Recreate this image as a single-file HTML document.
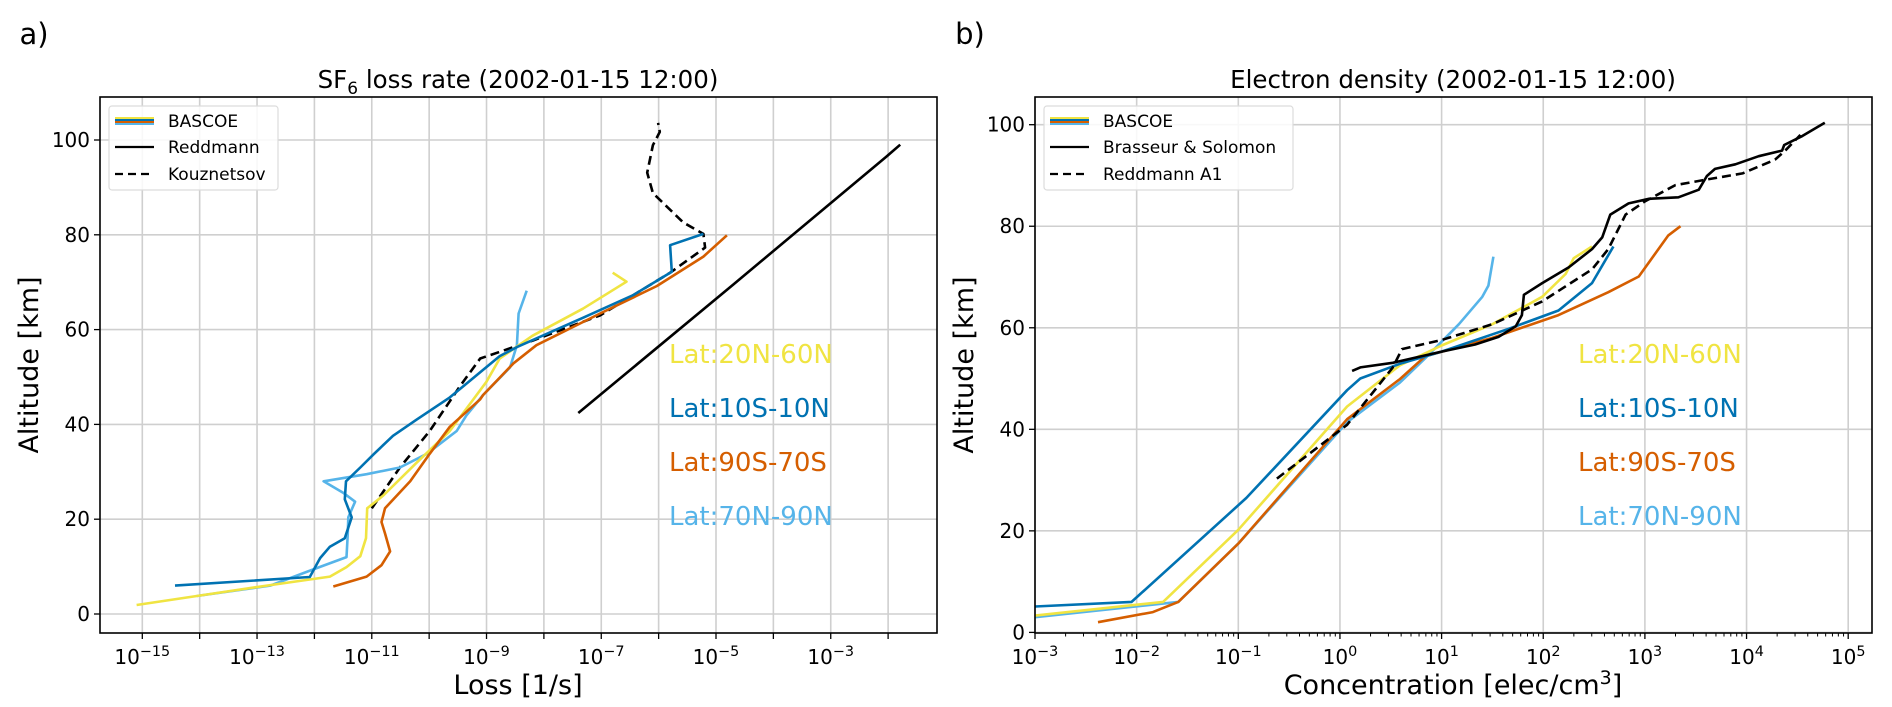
<!DOCTYPE html>
<html><head><meta charset="utf-8"><style>
html,body{margin:0;padding:0;background:#fff;}
svg{display:block;font-family:"DejaVu Sans","Liberation Sans",sans-serif;}
</style></head><body>
<svg id="fig" width="1892" height="707" viewBox="0 0 1892 707" xmlns="http://www.w3.org/2000/svg"></svg>
<script>
// ---------- Panel a data (log10 loss [1/s], altitude km) ----------
const aYellowE = [-15.1,-14.05,-12.83,-11.73,-11.44,-11.2,-11.1,-11.08,-10.8,-10.22,-9.64,-9.0,-8.77,-8.2,-7.32,-6.56,-6.8];
const aYellowZ = [1.9,3.8,6,7.9,9.9,12.2,16,22.3,25,31.9,38.6,49,53.9,58.7,64.4,70.1,72];
const aBlueE = [-14.43,-12.08,-11.9,-11.73,-11.47,-11.35,-11.47,-11.45,-11.2,-10.96,-10.63,-10.22,-9.64,-9.11,-8.77,-8.47,-7.32,-6.44,-5.77,-5.8,-5.22];
const aBlueZ = [6,7.8,11.8,14.2,16,20.4,24.2,28,30.9,33.8,37.6,41,45.7,51,54.4,56.3,62.5,67.3,72.2,77.8,80.2];
const aOrangeE = [-11.67,-11.09,-10.83,-10.68,-10.77,-10.83,-10.77,-10.33,-9.99,-9.64,-9.11,-9.06,-8.53,-8.13,-7.02,-6.03,-5.22,-4.81];
const aOrangeZ = [5.8,7.9,10.3,13.2,17,19.4,22.3,28,33.8,39.5,45.3,46.2,52.9,56.7,63.4,69.2,75.4,79.9];
const aLightE = [-14.05,-12.77,-12.02,-11.44,-11.42,-11.41,-11.29,-11.5,-11.84,-11.09,-10.51,-10.04,-9.52,-9.35,-9.06,-8.59,-8.47,-8.44,-8.3];
const aLightZ = [3.8,6,9.4,12,16.6,20.4,23.7,25.6,28,29.5,30.9,33.8,38.6,41.9,46.2,52,56.7,63.4,68.2];
const aKouzE = [-11.0,-10.51,-9.99,-9.46,-9.11,-8.19,-7.02,-5.8,-5.19,-5.22,-5.57,-6.1,-6.2,-6.1,-5.98,-6.01];
const aKouzZ = [22.3,30.9,38.6,48.1,53.9,57.7,63,72,77.3,80.2,82.6,88.8,93.1,98.9,101.7,103.6];
const aReddE = [-7.4,-4.7,-2.03,-1.79];
const aReddZ = [42.4,69.5,96.5,99];
const aXTicks = [-15,-14,-13,-12,-11,-10,-9,-8,-7,-6,-5,-4,-3,-2];
const aYTicks = [0,20,40,60,80,100];

// ---------- Panel b data (log10 concentration, altitude km) ----------
const bBlueE = [-3,-2.05,-0.92,0.07,0.2,0.59,1.0,1.66,2.15,2.48,2.69];
const bBlueZ = [5.1,6,26.5,47.7,50,52.9,55.3,59.8,63.4,68.8,76];
const bYellowE = [-3,-1.74,-1.0,0.07,0.59,1.0,1.5,1.99,2.22,2.3,2.48];
const bYellowZ = [3.3,6,20.2,44.5,52.6,56.5,60.7,66.1,70.6,73.7,76];
const bOrangeE = [-2.38,-1.84,-1.59,-1.0,0.07,0.59,0.84,1.5,2.15,2.64,2.94,3.23,3.35];
const bOrangeZ = [2.0,4,6,17.5,42,49.9,54.4,58,62.5,67,70.1,78.2,80];
const bLightE = [-3,-1.59,-1.0,0.07,0.59,0.84,1.17,1.40,1.46,1.51];
const bLightZ = [3,6,17.5,41.4,49.2,54,60.7,66.1,68.3,74];
const bBrasE = [0.12,0.2,0.52,1.0,1.33,1.56,1.73,1.79,1.81,1.99,2.25,2.48,2.58,2.66,2.84,3.04,3.33,3.53,3.61,3.69,3.89,4.12,4.35,4.37,4.55,4.77];
const bBrasZ = [51.5,52.2,53.1,55.3,56.7,58.2,60.3,62.5,66.5,68.8,71.9,75.5,77.8,82.3,84.5,85.4,85.7,87.2,89.9,91.3,92.2,93.8,94.9,96,97.8,100.4];
const bReddE = [-0.62,0.07,0.52,0.61,1.0,1.5,1.99,2.48,2.64,2.81,3.0,3.3,3.61,3.96,4.28,4.38,4.53];
const bReddZ = [30.3,40.9,52.2,55.8,57.6,60.7,65.2,71.5,75.5,82.3,84.9,88.1,89.2,90.4,93.1,94.9,98];
const bXTicks = [-3,-2,-1,0,1,2,3,4,5];
const bYTicks = [0,20,40,60,80,100];

const C = {yellow:'#f0e442', blue:'#0072b2', orange:'#d55e00', light:'#56b4e9'};
const NS = 'http://www.w3.org/2000/svg';
const svg = document.getElementById('fig');
function mk(tag, attrs, parent, txt){
  const e = document.createElementNS(NS, tag);
  for (const k in attrs) e.setAttribute(k, attrs[k]);
  if (txt !== undefined) e.textContent = txt;
  (parent||svg).appendChild(e);
  return e;
}

const A = {l:100, r:937, t:97, b:633, e0:-15, x0:142.3, dx:57.37, y0:614, dy:4.74};
const B = {l:1035, r:1872, t:97, b:633, e0:-3, x0:1035, dx:101.65, y0:632.4, dy:5.077};
function sx(ax, e){ return ax.x0 + (e - ax.e0) * ax.dx; }
function sy(ax, z){ return ax.y0 - z * ax.dy; }

function supText(g, x, y, base, exp, size, name){
  const t = mk('text', {x:x, y:y, 'text-anchor':'middle', 'font-size':size, fill:'#000'}, g);
  
  
  mk('tspan', {}, t, base);
  mk('tspan', {dy:-8, 'font-size':size*0.72}, t, exp);
  return t;
}
function fmtExp(e){ return e < 0 ? '\u2212' + Math.abs(e) : String(e); }

function drawFrame(ax, name, xt, yt, showLabel, minor){
  const g = mk('g', {});
  
  
  xt.forEach(e => {
    const x = sx(ax, e);
    const l = mk('line', {x1:x, x2:x, y1:ax.t, y2:ax.b, stroke:'#cfcfcf', 'stroke-width':1.6}, g);
    
    
  });
  yt.forEach(z => {
    const y = sy(ax, z);
    const l = mk('line', {x1:ax.l, x2:ax.r, y1:y, y2:y, stroke:'#cfcfcf', 'stroke-width':1.6}, g);
    
    
  });
  xt.forEach(e => {
    const x = sx(ax, e);
    mk('line', {x1:x, x2:x, y1:ax.b, y2:ax.b+6, stroke:'#000', 'stroke-width':1.3}, g);
    if (showLabel(e)) {
      supText(g, x, ax.b + 31, '10', fmtExp(e), 20, 'x-tick-label');
    }
    if (minor) {
      for (let m = 2; m <= 9; m++) {
        const xm = sx(ax, e + Math.log10(m));
        if (xm < ax.r) mk('line', {x1:xm, x2:xm, y1:ax.b, y2:ax.b+3.5, stroke:'#000', 'stroke-width':1}, g);
      }
    }
  });
  yt.forEach(z => {
    const y = sy(ax, z);
    mk('line', {x1:ax.l-6, x2:ax.l, y1:y, y2:y, stroke:'#000', 'stroke-width':1.3}, g);
    const t = mk('text', {x:ax.l-10, y:y+7, 'text-anchor':'end', 'font-size':20}, g, String(z));
    
    
  });
  return g;
}

function series(ax, es, zs, color, name, dash, w){
  const pts = es.map((e, i) => sx(ax, e).toFixed(1) + ',' + sy(ax, zs[i]).toFixed(1)).join(' ');
  const p = mk('polyline', {points:pts, fill:'none', stroke:color, 'stroke-width':w||2.6, 'stroke-linejoin':'round', 'clip-path':'url(#' + ax.clip + ')'});
  if (dash) p.setAttribute('stroke-dasharray', dash);
  
  
}

const defs = mk('defs', {});
A.clip = 'clipA'; B.clip = 'clipB';
const ca = mk('clipPath', {id:'clipA'}, defs); mk('rect', {x:A.l, y:A.t, width:A.r-A.l, height:A.b-A.t}, ca);
const cb = mk('clipPath', {id:'clipB'}, defs); mk('rect', {x:B.l, y:B.t, width:B.r-B.l, height:B.b-B.t}, cb);

drawFrame(A, 'panel-a-axes', aXTicks, aYTicks, e => (e % 2 !== 0), false);
series(A, aReddE, aReddZ, '#000', 'reddmann-line', null, 2.6);
series(A, aKouzE, aKouzZ, '#000', 'kouznetsov-line', '9,5', 2.6);
series(A, aLightE, aLightZ, C.light, 'line-70n-90n');
series(A, aYellowE, aYellowZ, C.yellow, 'line-20n-60n');
series(A, aOrangeE, aOrangeZ, C.orange, 'line-90s-70s');
series(A, aBlueE, aBlueZ, C.blue, 'line-10s-10n');
mk('rect', {x:A.l, y:A.t, width:A.r-A.l, height:A.b-A.t, fill:'none', stroke:'#000', 'stroke-width':1.6});

drawFrame(B, 'panel-b-axes', bXTicks, bYTicks, e => true, true);
series(B, bLightE, bLightZ, C.light, 'line-70n-90n');
series(B, bOrangeE, bOrangeZ, C.orange, 'line-90s-70s');
series(B, bYellowE, bYellowZ, C.yellow, 'line-20n-60n');
series(B, bBlueE, bBlueZ, C.blue, 'line-10s-10n');
series(B, bReddE, bReddZ, '#000', 'reddmann-a1-line', '9,5', 2.6);
series(B, bBrasE, bBrasZ, '#000', 'brasseur-solomon-line', null, 2.6);
mk('rect', {x:B.l, y:B.t, width:B.r-B.l, height:B.b-B.t, fill:'none', stroke:'#000', 'stroke-width':1.6});

function legend(x, y, w, labels, name){
  const g = mk('g', {});
  
  
  mk('rect', {x:x, y:y, width:w, height:84, rx:3, fill:'#fff', 'fill-opacity':0.85, stroke:'#dcdcdc', 'stroke-width':1.2}, g);
  const ys = [y+15, y+41, y+68];
  [C.yellow, C.blue, C.orange, C.light].forEach((c, i) => {
    mk('line', {x1:x+6, x2:x+45, y1:ys[0]-3+i*2, y2:ys[0]-3+i*2, stroke:c, 'stroke-width':2}, g);
  });
  mk('line', {x1:x+6, x2:x+45, y1:ys[1], y2:ys[1], stroke:'#000', 'stroke-width':2.2}, g);
  mk('line', {x1:x+6, x2:x+45, y1:ys[2], y2:ys[2], stroke:'#000', 'stroke-width':2.2, 'stroke-dasharray':'8,5'}, g);
  labels.forEach((lb, i) => {
    const t = mk('text', {x:x+59, y:ys[i]+6, 'font-size':17}, g, lb);
    
    
  });
}
legend(109, 106, 169, ['BASCOE','Reddmann','Kouznetsov'], 'legend-a');
legend(1044, 106, 249, ['BASCOE','Brasseur & Solomon','Reddmann A1'], 'legend-b');

function lat(x, name){
  const labs = [['Lat:20N-60N', C.yellow], ['Lat:10S-10N', C.blue], ['Lat:90S-70S', C.orange], ['Lat:70N-90N', C.light]];
  const ys = [363, 417, 471, 525];
  labs.forEach((l, i) => {
    const t = mk('text', {x:x, y:ys[i], 'font-size':26, fill:l[1]}, svg, l[0]);
    
    
  });
}
lat(669, 'lat-label-a');
lat(1578, 'lat-label-b');

function txt(x, y, s, size, name, extra){
  const t = mk('text', Object.assign({x:x, y:y, 'font-size':size, 'text-anchor':'middle'}, extra||{}), svg, s);
  
  
  return t;
}
const tA = txt(518, 88, '', 24.5, 'title-a');
mk('tspan', {}, tA, 'SF');
mk('tspan', {dy:6, 'font-size':17}, tA, '6');
mk('tspan', {dy:-6}, tA, ' loss rate (2002-01-15 12:00)');
txt(1453, 88, 'Electron density (2002-01-15 12:00)', 24.5, 'title-b');
txt(518, 694, 'Loss [1/s]', 27, 'x-axis-title-a');
const xb = txt(1453, 694, '', 27, 'x-axis-title-b');
mk('tspan', {}, xb, 'Concentration [elec/cm');
mk('tspan', {dy:-10, 'font-size':19}, xb, '3');
mk('tspan', {dy:10}, xb, ']');
txt(38, 365, 'Altitude [km]', 27, 'y-axis-title-a', {transform:'rotate(-90 38 365)'});
txt(973, 365, 'Altitude [km]', 27, 'y-axis-title-b', {transform:'rotate(-90 973 365)'});
txt(34, 44, 'a)', 29, 'panel-label-a');
txt(970, 44, 'b)', 29, 'panel-label-b');
</script>
</body></html>
